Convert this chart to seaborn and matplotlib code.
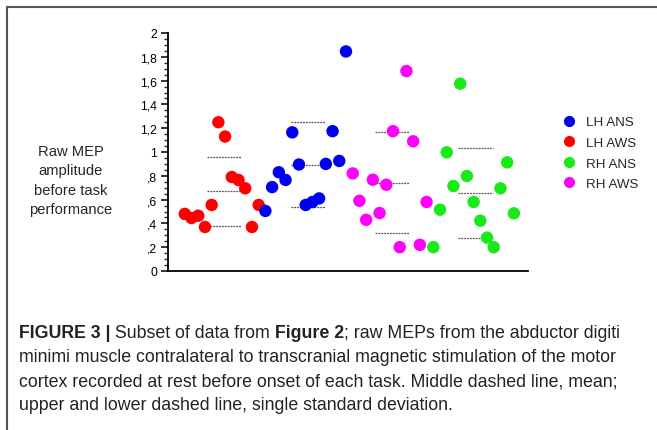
import numpy as np
import pandas as pd
import matplotlib.pyplot as plt
import seaborn as sns
from matplotlib.lines import Line2D
from matplotlib.ticker import FixedLocator, FixedFormatter, MultipleLocator

# groups in the order they appear from left to right
groups = ['LH AWS', 'LH ANS', 'RH AWS', 'RH ANS']
lh_aws = [0.48, 0.445, 0.465, 0.37, 0.555, 1.25, 1.13, 0.79, 0.765, 0.695, 0.37, 0.555]
lh_ans = [0.505, 0.705, 0.83, 0.765, 1.165, 0.895, 0.555, 0.58, 0.61, 0.90, 1.175, 0.925, 1.845]
rh_aws = [0.82, 0.59, 0.43, 0.767, 0.487, 0.725, 1.175, 0.20, 1.68, 1.09, 0.22, 0.58]
rh_ans = [0.20, 0.515, 0.997, 0.714, 1.574, 0.798, 0.58, 0.423, 0.28, 0.20, 0.695, 0.913, 0.485]

# dashed lines: mean and +/- one SD
mean_vals = [0.672, 0.893, 0.74, 0.655]
upper_sd = [0.96, 1.25, 1.165, 1.034]
lower_sd = [0.38, 0.54, 0.32, 0.277]

legend_order = ['LH ANS', 'LH AWS', 'RH ANS', 'RH AWS']
colors = {'LH ANS': '#0000f0', 'LH AWS': '#ff0000', 'RH ANS': '#18ea18', 'RH AWS': '#ff00ff'}

ytick_vals = [0, 0.2, 0.4, 0.6, 0.8, 1.0, 1.2, 1.4, 1.6, 1.8, 2.0]
ytick_labels = ['0', ',2', ',4', ',6', ',8', '1', '1,2', '1,4', '1,6', '1,8', '2']

# build the long table, one x slot per subject
rows = []
for g, vals in zip(groups, [lh_aws, lh_ans, rh_aws, rh_ans]):
    for v in vals:
        rows.append((g, v))
df = pd.DataFrame(rows, columns=['group', 'mep'])
df['pos'] = np.arange(len(df))

sns.set_style('ticks')
plt.rcParams['font.family'] = ['Liberation Sans', 'DejaVu Sans']

fig = plt.figure(figsize=(6.57, 4.31), dpi=100)
ax = fig.add_axes([168 / 657, 1 - 272 / 431, 360 / 657, 238 / 431])

sns.scatterplot(data=df, x='pos', y='mep', hue='group', hue_order=legend_order,
                palette=colors, s=80, linewidth=0, ax=ax, legend=False, zorder=3)

# mean / sd dashed lines
for i, g in enumerate(groups):
    idx = df.index[df['group'] == g]
    c = (idx.min() + idx.max()) / 2 + 0.3
    for yv in (mean_vals[i], upper_sd[i], lower_sd[i]):
        ax.plot([c - 2.55, c + 2.55], [yv, yv], color='#555555', lw=0.9,
                linestyle=(0, (1.5, 0.8)), zorder=2)

ax.set_xlim(-2.5, 51.1)
ax.set_ylim(0, 2)
ax.yaxis.set_major_locator(FixedLocator(ytick_vals))
ax.yaxis.set_major_formatter(FixedFormatter(ytick_labels))
ax.yaxis.set_minor_locator(MultipleLocator(0.05))
ax.tick_params(axis='y', which='major', length=5, width=1.1, labelsize=8.8, pad=3, colors='black')
ax.tick_params(axis='y', which='minor', length=3, width=1.0)
ax.set_xticks([])
ax.set_xlabel('')
ax.set_ylabel('')
sns.despine(ax=ax)
for sp in ['left', 'bottom']:
    ax.spines[sp].set_linewidth(1.3)
    ax.spines[sp].set_color('black')

fig.text(71 / 657, 1 - 181 / 431, 'Raw MEP\namplitude\nbefore task\nperformance',
         ha='center', va='center', fontsize=10.6, linespacing=1.5)

# legend
handles = [Line2D([], [], marker='o', linestyle='', markersize=8, color=colors[g],
                  markeredgewidth=0) for g in legend_order]
fig.legend(handles, legend_order, loc='upper left', bbox_to_anchor=(549 / 657, 1 - 105 / 431),
           frameon=False, fontsize=9.6, handletextpad=0.7, labelspacing=0.62,
           handlelength=1.2)

# outer frame (left and top)
fig.add_artist(Line2D([7 / 657, 7 / 657], [0, 1 - 8 / 431], color='#555555', lw=1.5,
                      transform=fig.transFigure))
fig.add_artist(Line2D([7 / 657, 1], [1 - 8 / 431, 1 - 8 / 431], color='#555555', lw=1.5,
                      transform=fig.transFigure))

# caption
cap_fs = 12.8
cap_x = 19 / 657
y1 = 1 - 334 / 431
pieces = [('FIGURE 3 |', 'bold'), (' Subset of data from ', 'normal'),
          ('Figure 2', 'bold'), ('; raw MEPs from the abductor digiti', 'normal')]
prev = fig.text(cap_x, y1, pieces[0][0], fontsize=cap_fs, fontweight='bold',
                va='center', ha='left', color='#222222')
for txt, w in pieces[1:]:
    prev = ax.annotate(txt, xy=(1, 0.5), xycoords=prev, fontsize=cap_fs, fontweight=w,
                       va='center', ha='left', color='#222222', annotation_clip=False)
cap_lines = ['minimi muscle contralateral to transcranial magnetic stimulation of the motor',
             'cortex recorded at rest before onset of each task. Middle dashed line, mean;',
             'upper and lower dashed line, single standard deviation.']
for k, line in enumerate(cap_lines):
    fig.text(cap_x, 1 - (358 + 24 * k) / 431, line, fontsize=cap_fs, va='center',
             ha='left', color='#222222')

fig.savefig('out.png', dpi=100)
